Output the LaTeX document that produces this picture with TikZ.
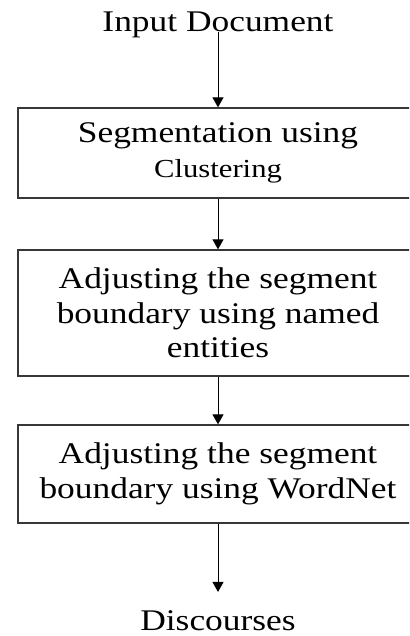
\documentclass[tikz,border=0pt]{standalone}
\usepackage{fontspec}
\setmainfont{Liberation Serif}[FakeStretch=1.18]
\usepackage{xcolor}
\usepackage{tikz}
\usetikzlibrary{arrows.meta, positioning}
\definecolor{boxline}{RGB}{55,55,55}
\tikzset{
    stagebox/.style={
        rectangle,
        draw=boxline,
        line width=1.3pt,
        minimum width=400pt,
        align=center,
        inner sep=0pt,
        font=\fontsize{30}{34.5}\selectfont
    },
    textlabel/.style={
        inner sep=0pt,
        font=\fontsize{30}{34.5}\selectfont
    },
    flow/.style={
        draw=black,
        line width=1pt,
        -{Triangle[width=11pt,length=10pt]}
    }
}

\begin{document}
\begin{tikzpicture}[x=1pt, y=1pt]
\useasboundingbox (0,0) rectangle (409,-636);
\clip (0,0) rectangle (409,-636);

% Input
\node[textlabel, anchor=base] (doc) at (218,-32) {Input Document};

% Processing stages
\node[stagebox, minimum height=90pt] (seg) at (218,-153) {Segmentation using\\\fontsize{26}{29}\selectfont Clustering};
\node[stagebox, minimum height=126pt] (ent) at (218,-313) {Adjusting the segment\\boundary using named\\entities};
\node[stagebox, minimum height=98pt] (wn) at (218,-474) {Adjusting the segment\\boundary using WordNet};

% Output
\node[textlabel, anchor=base] (disc) at (218,-630) {Discourses};

\draw[flow] (doc.base) -- (seg);
\draw[flow] (seg) -- (ent);
\draw[flow] (ent) -- (wn);
\draw[flow, shorten >=18pt] (wn) -- (disc);

\end{tikzpicture}
\end{document}
